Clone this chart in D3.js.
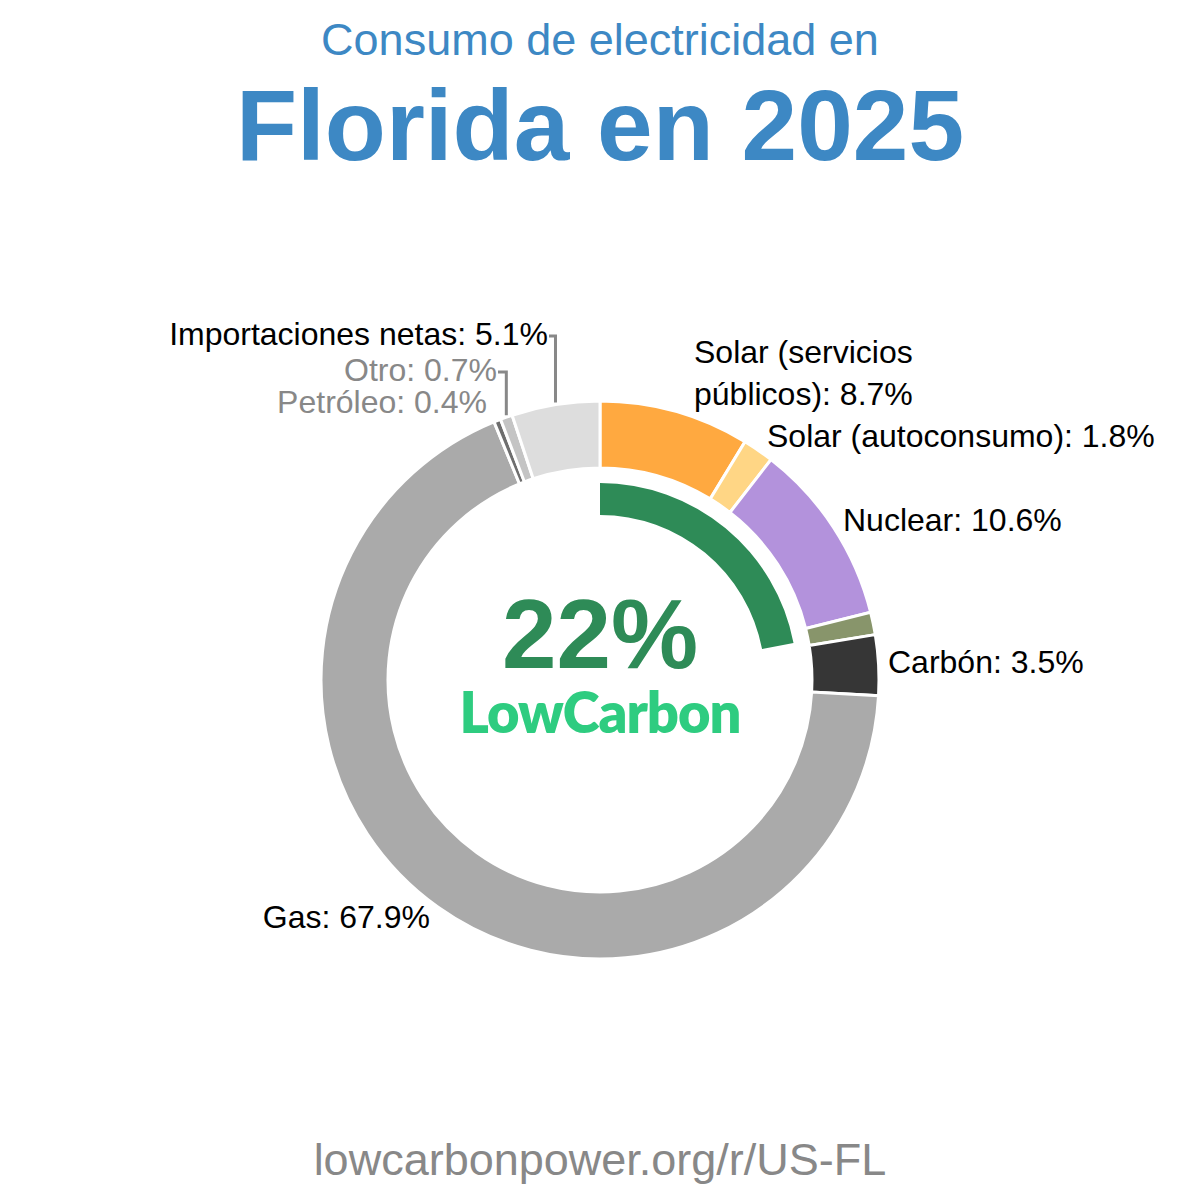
<!DOCTYPE html>
<html>
<head>
<meta charset="utf-8">
<script src="https://cdn.jsdelivr.net/npm/d3@7"></script>
<style>
body { margin: 0; background: #fff; }
text { font-family: "Liberation Sans", Arial, sans-serif; }
</style>
</head>
<body>
<div id="chart"></div>
<script>
// data
const sources = ["Solar (servicios públicos)", "Solar (autoconsumo)", "Nuclear", "Biomasa", "Carbón", "Gas", "Petróleo", "Otro", "Importaciones netas"];
const shares = [8.7, 1.8, 10.6, 1.3, 3.5, 67.9, 0.4, 0.7, 5.1];
const colors = ["#ffa940", "#ffd685", "#b392dc", "#88956b", "#363636", "#aaaaaa", "#6e6e6e", "#c4c4c4", "#dddddd"];
const lowCarbonShare = 22;

// where each label sits (unlabelled slices are left out)
const labelLayout = {
  "Solar (servicios públicos)": {lines: ["Solar (servicios", "públicos): 8.7%"], x: 694, y: 363, anchor: "start", fill: "#000"},
  "Solar (autoconsumo)": {x: 767, y: 447, anchor: "start", fill: "#000"},
  "Nuclear": {x: 843, y: 531, anchor: "start", fill: "#000"},
  "Carbón": {x: 888, y: 673, anchor: "start", fill: "#000"},
  "Gas": {x: 430, y: 928, anchor: "end", fill: "#000"},
  "Petróleo": {x: 487, y: 413, anchor: "end", fill: "#888"},
  "Otro": {x: 497, y: 381, anchor: "end", fill: "#888", leader: true},
  "Importaciones netas": {x: 548, y: 345, anchor: "end", fill: "#000", leader: true}
};

const width = 1200, height = 1200;
const cx = 600, cy = 680;
const outerR = 279, innerR = 212;

const svg = d3.select("#chart")
  .append("svg")
  .attr("width", width)
  .attr("height", height);

// titles
svg.append("text")
  .attr("x", width / 2)
  .attr("y", 55)
  .attr("text-anchor", "middle")
  .attr("font-size", 45)
  .attr("fill", "#3d88c4")
  .text("Consumo de electricidad en");

svg.append("text")
  .attr("x", width / 2)
  .attr("y", 160)
  .attr("text-anchor", "middle")
  .attr("font-size", 100)
  .attr("font-weight", "bold")
  .attr("fill", "#3d88c4")
  .text("Florida en 2025");

const g = svg.append("g")
  .attr("transform", `translate(${cx},${cy})`);

const data = sources.map((s, i) => ({name: s, value: shares[i], color: colors[i]}));

const pie = d3.pie()
  .value(d => d.value)
  .sort(null);

const arcs = pie(data);

const arc = d3.arc()
  .innerRadius(innerR)
  .outerRadius(outerR);

g.selectAll("path.slice")
  .data(arcs)
  .join("path")
  .attr("class", "slice")
  .attr("d", arc)
  .attr("fill", d => d.data.color)
  .attr("stroke", "#fff")
  .attr("stroke-width", 3);

// low carbon inner arc
const lcArc = d3.arc()
  .innerRadius(165)
  .outerRadius(197)
  .startAngle(0)
  .endAngle(2 * Math.PI * lowCarbonShare / 100);

g.append("path")
  .attr("d", lcArc())
  .attr("fill", "#2e8b57");

g.append("text")
  .attr("x", 0)
  .attr("y", -12)
  .attr("text-anchor", "middle")
  .attr("font-size", 98)
  .attr("font-weight", "bold")
  .attr("fill", "#2e8b57")
  .text(lowCarbonShare + "%");

g.append("text")
  .attr("x", 0)
  .attr("y", 53)
  .attr("text-anchor", "middle")
  .attr("font-size", 56)
  .attr("font-weight", 800)
  .attr("letter-spacing", -1)
  .attr("fill", "#2ecc80")
  .style("font-family", "Lato, Inter, sans-serif")
  .text("LowCarbon");

// labels
arcs.forEach(a => {
  const lay = labelLayout[a.data.name];
  if (!lay) return;
  const lines = lay.lines || [a.data.name + ": " + a.data.value + "%"];
  const t = svg.append("text")
    .attr("text-anchor", lay.anchor)
    .attr("font-size", 32)
    .attr("fill", lay.fill);
  lines.forEach((l, i) => {
    t.append("tspan")
      .attr("x", lay.x)
      .attr("y", lay.y + i * 42)
      .text(l);
  });
  if (lay.leader) {
    const mid = (a.startAngle + a.endAngle) / 2;
    const px = cx + outerR * Math.sin(mid);
    const py = cy - outerR * Math.cos(mid);
    const ly = lay.y - 9;
    svg.append("path")
      .attr("d", `M${lay.x + 1},${ly} H${px} V${py - 2}`)
      .attr("fill", "none")
      .attr("stroke", "#888")
      .attr("stroke-width", 3);
  }
});

svg.append("text")
  .attr("x", width / 2)
  .attr("y", 1175)
  .attr("text-anchor", "middle")
  .attr("font-size", 45)
  .attr("fill", "#888")
  .text("lowcarbonpower.org/r/US-FL");
</script>
</body>
</html>
